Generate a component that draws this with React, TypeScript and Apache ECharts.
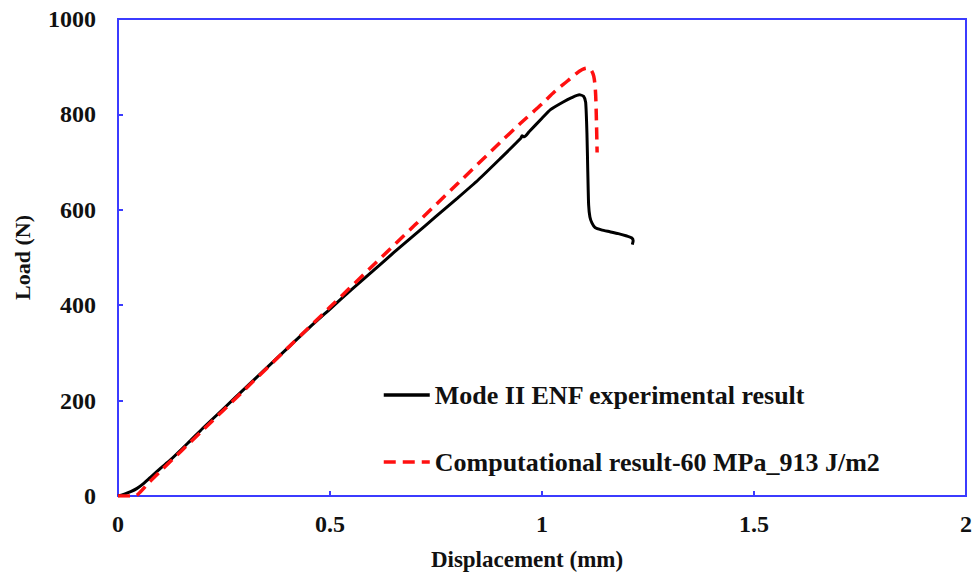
import React, { useEffect, useRef } from "react";
import * as echarts from "echarts";

const expDisp = [0, 0.015, 0.03, 0.045, 0.06, 0.075, 0.1, 0.123, 0.165, 0.2, 0.25, 0.3, 0.35, 0.4, 0.45, 0.5, 0.55, 0.6, 0.65, 0.7, 0.75, 0.8, 0.85, 0.9, 0.95, 0.953, 0.958, 0.97, 1.0, 1.02, 1.05, 1.07, 1.088, 1.098, 1.103, 1.106, 1.108, 1.11, 1.113, 1.118, 1.125, 1.14, 1.16, 1.18, 1.2, 1.212, 1.215, 1.213];
const expLoad = [0, 4, 9, 16, 26, 38, 58, 75, 111, 142, 184, 226, 268, 310, 352, 392, 432, 471, 510, 548, 586, 624, 663, 706, 750, 755, 753, 764, 792, 810, 826, 835, 841, 838, 825, 760, 680, 610, 585, 572, 563, 558, 554, 550, 545, 541, 535, 527];

const compDisp = [0, 0.04, 0.052, 0.075, 0.1, 0.2, 0.3, 0.4, 0.5, 0.6, 0.7, 0.8, 0.9, 0.95, 1.0, 1.03, 1.06, 1.08, 1.095, 1.105, 1.115, 1.122, 1.126, 1.128, 1.13];
const compLoad = [0, 0, 8, 30, 52, 138, 224, 310, 396, 482, 568, 654, 740, 782, 822, 848, 870, 885, 894, 897, 894, 880, 850, 800, 720];

const xTicks = [0, 0.5, 1, 1.5, 2];
const yTicks = [0, 200, 400, 600, 800, 1000];

const seriesNames = ["Mode II ENF experimental result", "Computational result-60 MPa_913 J/m2"];

const FONT = "'Liberation Serif', 'Times New Roman', serif";
const BLUE = "#3b3bff";

export default function App() {
  const ref = useRef<HTMLDivElement>(null);
  useEffect(() => {
    if (!ref.current) return;
    const chart = echarts.init(ref.current, undefined, { renderer: "svg" });
    const exp = expDisp.map((d, i) => [d, expLoad[i]]);
    const comp = compDisp.map((d, i) => [d, compLoad[i]]);
    chart.setOption({
      animation: false,
      backgroundColor: "#ffffff",
      grid: {
        left: 118,
        right: 13,
        top: 19,
        bottom: 89,
        show: true,
        borderColor: BLUE,
        borderWidth: 2,
        backgroundColor: "transparent",
      },
      legend: {
        orient: "vertical",
        left: 377,
        top: 377,
        itemWidth: 46,
        itemHeight: 14,
        itemGap: 41,
        itemStyle: { opacity: 0 },
        lineStyle: { width: 3.5 },
        textStyle: { fontFamily: FONT, fontWeight: "bold", fontSize: 26, color: "#111" },
        data: seriesNames,
      },
      xAxis: {
        type: "value",
        min: xTicks[0],
        max: xTicks[xTicks.length - 1],
        interval: 0.5,
        name: "Displacement (mm)",
        nameLocation: "middle",
        nameGap: 52,
        nameTextStyle: { fontFamily: FONT, fontWeight: "bold", fontSize: 23, color: "#111", padding: [0, 30, 0, 0] },
        axisLine: { show: true, lineStyle: { color: BLUE, width: 2 } },
        axisTick: { show: true, inside: true, length: 5, lineStyle: { color: BLUE, width: 2 } },
        axisLabel: { fontFamily: FONT, fontWeight: "bold", fontSize: 24, color: "#111", margin: 16 },
        splitLine: { show: false },
      },
      yAxis: {
        type: "value",
        min: yTicks[0],
        max: yTicks[yTicks.length - 1],
        interval: 200,
        name: "Load (N)",
        nameLocation: "middle",
        nameGap: 85,
        nameRotate: 90,
        nameTextStyle: { fontFamily: FONT, fontWeight: "bold", fontSize: 22, color: "#111" },
        axisLine: { show: true, lineStyle: { color: BLUE, width: 2 } },
        axisTick: { show: true, inside: true, length: 5, lineStyle: { color: BLUE, width: 2 } },
        axisLabel: {
          fontFamily: FONT,
          fontWeight: "bold",
          fontSize: 24,
          color: "#111",
          margin: 22,
          formatter: (v: number) => String(v),
        },
        splitLine: { show: false },
      },
      series: [
        {
          name: seriesNames[0],
          type: "line",
          data: exp,
          symbol: "none",
          smooth: 0.2,
          lineStyle: { color: "#000000", width: 3 },
          itemStyle: { color: "#000000" },
          z: 3,
        },
        {
          name: seriesNames[1],
          type: "line",
          data: comp,
          symbol: "none",
          smooth: 0.3,
          lineStyle: { color: "#ff1010", width: 3.5, type: [12, 7] },
          itemStyle: { color: "#ff1010" },
          z: 4,
        },
      ],
    });
    return () => chart.dispose();
  }, []);
  return (
    <div
      ref={ref}
      style={{ position: "fixed", left: 0, top: 0, width: 979, height: 585, background: "#fff" }}
    />
  );
}
